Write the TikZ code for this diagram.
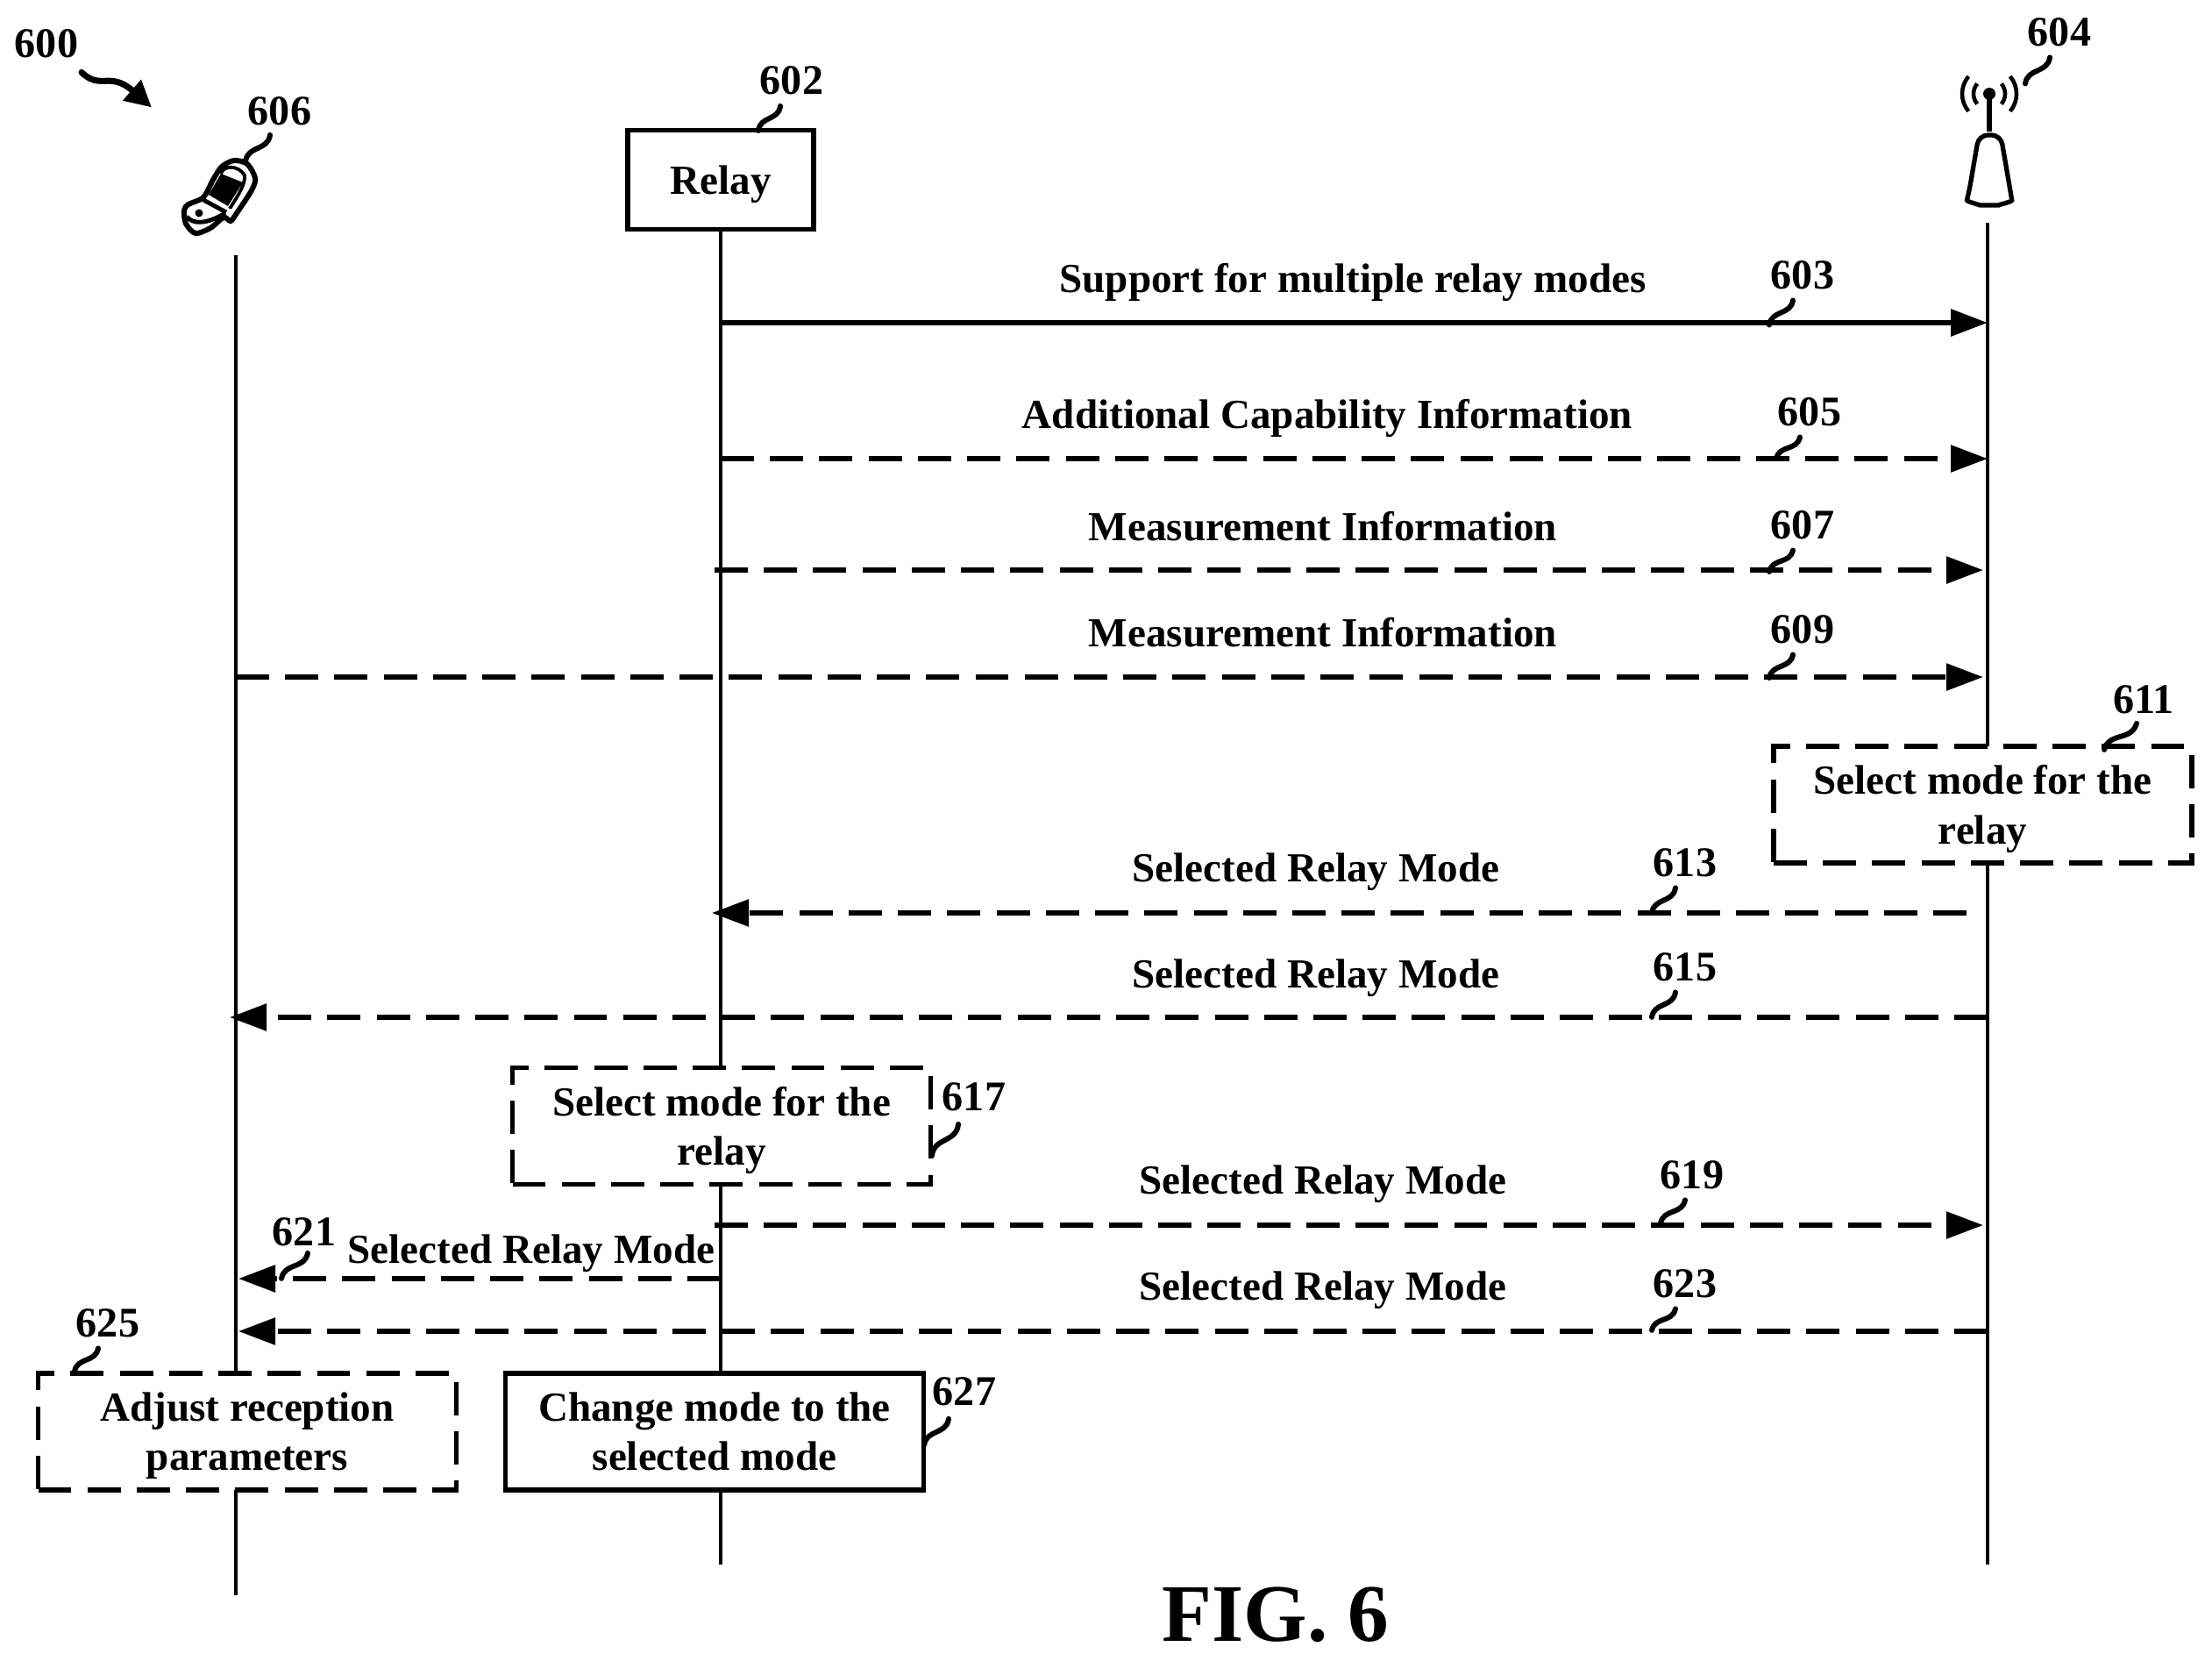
\documentclass[tikz,border=0pt]{standalone}
\usepackage{fontspec}
\setmainfont{Liberation Serif}
\usetikzlibrary{arrows.meta,calc}

\begin{document}
\begin{tikzpicture}[life/.style={line width=1.4pt},
sig/.style={line width=1.6pt, dash pattern=on 10.8pt off 5.2pt, -{Triangle[length=.42cm,width=.3cm]}},
act/.style={rectangle, draw, fill=white, line width=1.6pt, minimum width=4.77cm, minimum height=1.33cm, inner sep=0},
dact/.style={act, dash pattern=on 10.8pt off 5.2pt},
lab/.style={inner sep=0, align=center, font=\fontsize{13.4}{16}\selectfont\bfseries},
txt/.style={lab, yshift=-.05cm},
num/.style={inner sep=0, font=\fontsize{13.7}{16}\selectfont\bfseries},
lead/.style={line width=1.7pt, line cap=round, to path={.. controls ($(\tikztostart)!.45!35:(\tikztotarget)$) and ($(\tikztotarget)!.45!35:(\tikztostart)$) .. (\tikztotarget)}}]

\useasboundingbox (0,0) rectangle (25.23,-18.93);

\node[rectangle, draw, line width=1.6pt, minimum width=2.12cm, minimum height=1.13cm] at (8.22,-2.05) (relay) {};
\node[txt] at (relay) (relaytxt) {Relay};

\coordinate (uetop) at (2.69,-2.91);
\coordinate (ueend) at (2.69,-18.19);
\coordinate (relayend) at (8.22,-17.84);
\coordinate (bstop) at (22.67,-2.54);
\coordinate (bsend) at (22.67,-17.84);

\draw[life] (uetop) -- (ueend);
\draw[life] (relay.south) -- (relayend);
\draw[life] (bstop) -- (bsend);

\draw[line width=1.7pt] plot[smooth cycle] coordinates {(2.10,-2.40) (2.15,-2.33) (2.32,-2.25) (2.43,-2.05) (2.53,-1.90) (2.67,-1.83) (2.82,-1.87) (2.91,-2.03) (2.87,-2.17) (2.70,-2.43) (2.63,-2.52) (2.55,-2.48) (2.40,-2.60) (2.23,-2.66) (2.12,-2.55)};
\fill (2.38,-2.22) -- (2.52,-1.98) -- (2.77,-2.08) -- (2.60,-2.35) -- cycle;
\draw[line width=1.1pt] (2.52,-1.98) .. controls (2.55,-1.88) and (2.72,-1.88) .. (2.79,-2.00) .. controls (2.80,-2.10) and (2.72,-2.22) .. (2.62,-2.38);
\draw[line width=1.4pt] (2.32,-2.28) -- (2.58,-2.42);
\draw[line width=1.4pt] (2.13,-2.47) .. controls (2.20,-2.56) and (2.35,-2.56) .. (2.57,-2.43);
\fill (2.27,-2.43) circle (.045);
\fill[white] (2.64,-2.41) circle (.03);

\coordinate (bscenter) at (22.69,-1.07);
\fill (bscenter) circle (.07);
\draw[line width=1.7pt] (bscenter) -- (22.69,-1.50);
\draw[line width=1.5pt, rounded corners=3pt] (22.57,-1.54) -- (22.46,-2.18) .. controls (22.43,-2.30) and (22.60,-2.34) .. (22.69,-2.34) .. controls (22.78,-2.34) and (22.95,-2.30) .. (22.93,-2.18) -- (22.82,-1.54) -- cycle;
\foreach \r in {.18,.31} {
\draw[line width=1.3pt] ([shift={(140:\r)}]bscenter) arc[start angle=140, end angle=220, radius=\r];
\draw[line width=1.3pt] ([shift={(-40:\r)}]bscenter) arc[start angle=-40, end angle=40, radius=\r];
}

\coordinate (m603) at (0,-3.68);
\coordinate (m605) at (0,-5.23);
\coordinate (m607) at (0,-6.50);
\coordinate (m609) at (0,-7.72);
\coordinate (m613) at (0,-10.41);
\coordinate (m615) at (0,-11.60);
\coordinate (m619) at (0,-13.97);
\coordinate (m621) at (0,-14.58);
\coordinate (m623) at (0,-15.18);

\draw[sig, line width=1.8pt, solid] (relay.south |- m603) -- (bstop |- m603);
\draw[sig] (relay.south |- m605) -- (bstop |- m605);
\draw[sig] ([xshift=-.07cm]relay.south |- m607) -- ([xshift=-.05cm]bstop |- m607);
\draw[sig] (uetop |- m609) -- ([xshift=-.05cm]bstop |- m609);
\draw[sig] ([xshift=-.24cm]bstop |- m613) -- ([xshift=-.1cm]relay.south |- m613);
\draw[sig] (bstop |- m615) -- ([xshift=-.07cm]uetop |- m615);
\draw[sig] ([xshift=-.07cm]relay.south |- m619) -- ([xshift=-.05cm]bstop |- m619);
\draw[sig] (relay.south |- m621) -- ([xshift=.03cm]uetop |- m621);
\draw[sig] (bstop |- m623) -- ([xshift=.03cm]uetop |- m623);

\node[dact] at (22.615,-9.175) (sel1) {};
\node[txt] at (sel1) (sel1txt) {Select mode for the\\relay};
\node[dact] at (8.23,-12.84) (sel2) {};
\node[txt] at (sel2) (sel2txt) {Select mode for the\\relay};
\node[dact] at (2.82,-16.325) (adjust) {};
\node[txt] at (adjust) (adjusttxt) {Adjust reception\\parameters};
\node[act] at (8.15,-16.325) (change) {};
\node[lab] at (change) (changetxt) {Change mode to the\\selected mode};

\node[txt] at (15.43,-3.17) (t603) {Support for multiple relay modes};
\node[txt] at (15.14,-4.72) (t605) {Additional Capability Information};
\node[txt] at (15.09,-5.95) (t607) {Measurement Information};
\node[txt] at (15.09,-7.16) (t609) {Measurement Information};
\node[txt] at (15.01,-9.89) (t613) {Selected Relay Mode};
\node[txt] at (15.01,-11.10) (t615) {Selected Relay Mode};
\node[txt] at (15.09,-13.45) (t619) {Selected Relay Mode};
\node[txt] at (6.06,-14.24) (t621) {Selected Relay Mode};
\node[txt] at (15.09,-14.66) (t623) {Selected Relay Mode};

\node[num] at (.53,-.50) (n600) {600};
\node[num] at (3.19,-1.27) (n606) {606};
\node[num] at (9.03,-.92) (n602) {602};
\node[num] at (23.49,-.37) (n604) {604};
\node[num] at (20.56,-3.14) (n603) {603};
\node[num] at (20.64,-4.70) (n605) {605};
\node[num] at (20.56,-5.99) (n607) {607};
\node[num] at (20.56,-7.18) (n609) {609};
\node[num] at (24.45,-7.98) (n611) {611};
\node[num] at (19.22,-9.84) (n613) {613};
\node[num] at (19.22,-11.03) (n615) {615};
\node[num] at (11.11,-12.51) (n617) {617};
\node[num] at (19.30,-13.40) (n619) {619};
\node[num] at (3.47,-14.05) (n621) {621};
\node[num] at (19.22,-14.64) (n623) {623};
\node[num] at (1.23,-15.09) (n625) {625};
\node[num] at (11.00,-15.87) (n627) {627};

\draw[line width=2pt, line cap=round, -{Triangle[length=.3cm,width=.3cm]}] ([shift={(.40,-.155)}]n600.south) .. controls ([shift={(.62,-.365)}]n600.south) and ([shift={(.72,-.135)}]n600.south) .. ([shift={(1.2,-.555)}]n600.south);
\draw[lead] ([shift={(-.11,-.10)}]n606.south) to ([shift={(-.39,-.40)}]n606.south);
\draw[lead] ([shift={(-.13,-.12)}]n602.south) to ([shift={(-.38,-.4)}]n602.south);
\draw[lead] ([shift={(-.11,-.115)}]n604.south) to ([shift={(-.39,-.415)}]n604.south);
\draw[lead] ([shift={(-.11,-.115)}]n603.south) to ([shift={(-.38,-.395)}]n603.south);
\draw[lead] ([shift={(-.11,-.115)}]n605.south) to ([shift={(-.38,-.36)}]n605.south);
\draw[lead] ([shift={(-.11,-.115)}]n607.south) to ([shift={(-.38,-.36)}]n607.south);
\draw[lead] ([shift={(-.11,-.115)}]n609.south) to ([shift={(-.38,-.38)}]n609.south);
\draw[lead] ([shift={(-.08,-.10)}]n611.south) to ([shift={(-.45,-.40)}]n611.south);
\draw[lead] ([shift={(-.11,-.115)}]n613.south) to ([shift={(-.38,-.40)}]n613.south);
\draw[lead] ([shift={(-.11,-.115)}]n615.south) to ([shift={(-.38,-.40)}]n615.south);
\draw[lead] ([shift={(-.18,-.14)}]n617.south) to ([shift={(-.48,-.50)}]n617.south);
\draw[lead] ([shift={(-.08,-.115)}]n619.south) to ([shift={(-.36,-.38)}]n619.south);
\draw[lead] ([shift={(.04,-.07)}]n621.south) to ([shift={(-.26,-.36)}]n621.south);
\draw[lead] ([shift={(-.11,-.115)}]n623.south) to ([shift={(-.38,-.36)}]n623.south);
\draw[lead] ([shift={(-.11,-.115)}]n625.south) to ([shift={(-.38,-.38)}]n625.south);
\draw[lead] ([shift={(-.18,-.14)}]n627.south) to ([shift={(-.46,-.44)}]n627.south);

\node[inner sep=0, font=\fontsize{26.5}{30}\selectfont\bfseries] at (14.55,-18.41) (fig) {FIG. 6};
\end{tikzpicture}
\end{document}
